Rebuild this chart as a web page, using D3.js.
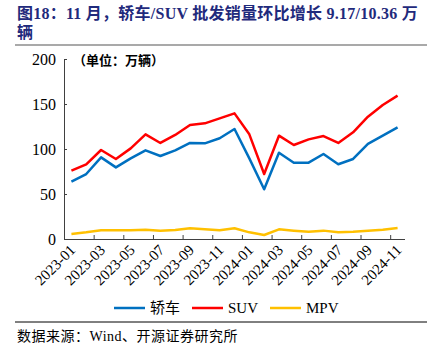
<!DOCTYPE html>
<html>
<head>
<meta charset="utf-8">
<script src="https://cdn.jsdelivr.net/npm/d3@7"></script>
<style>
  body { margin: 0; background: #fff; }
  svg { display: block; }
</style>
</head>
<body>
<div id="chart"></div>
<script>
// monthly wholesale volume, 万辆
const months = ["2023-01","2023-02","2023-03","2023-04","2023-05","2023-06","2023-07","2023-08","2023-09","2023-10","2023-11","2023-12",
  "2024-01","2024-02","2024-03","2024-04","2024-05","2024-06","2024-07","2024-08","2024-09","2024-10","2024-11"];
const sedan = [63.7, 72.2, 90.7, 79.6, 89.6, 98.5, 92.2, 98.5, 106.7, 106.3, 111.9, 122.2,
  89.6, 55.2, 95.9, 84.8, 84.8, 94.4, 83.0, 88.9, 105.6, 114.8, 124.0];
const suv = [75.9, 83.0, 98.9, 88.9, 100.7, 116.3, 106.7, 115.6, 126.7, 128.5, 134.0, 139.6,
  116.3, 72.2, 114.8, 104.4, 110.7, 114.4, 106.7, 118.5, 135.9, 148.9, 159.3];
const mpv = [5.6, 7.4, 9.6, 9.6, 9.6, 10.4, 9.3, 10.0, 11.9, 10.7, 9.6, 11.9,
  7.4, 4.4, 10.7, 9.3, 8.1, 9.3, 7.4, 8.1, 9.3, 10.4, 12.2];
const yTicks = [0, 50, 100, 150, 200];

const series = [
  { name: "轿车", values: sedan, color: "#0070C0" },
  { name: "SUV", values: suv, color: "#FF0000" },
  { name: "MPV", values: mpv, color: "#FFC000" }
];

const width = 445, height = 351;
const plotLeft = 64, plotRight = 405, plotTop = 59, plotBottom = 239;
const serif = "'Liberation Serif', 'Noto Sans CJK SC', serif";

const svg = d3.select("#chart").append("svg")
  .attr("width", width)
  .attr("height", height);

// title
const title = svg.append("text")
  .attr("fill", "#1F2A7C")
  .attr("font-family", serif)
  .attr("font-weight", "bold")
  .attr("font-size", 16)
  .attr("letter-spacing", 0.25);
title.append("tspan").attr("x", 17).attr("y", 19).text("图18：11 月，轿车/SUV 批发销量环比增长 9.17/10.36 万");
title.append("tspan").attr("x", 17).attr("y", 38).text("辆");

svg.append("line")
  .attr("x1", 15).attr("x2", 427)
  .attr("y1", 45).attr("y2", 45)
  .attr("stroke", "#8c8c8c").attr("stroke-width", 1.5);

const x = d3.scaleLinear().domain([-0.5, months.length - 0.5]).range([plotLeft, plotRight]);
const y = d3.scaleLinear().domain([0, 200]).range([plotBottom, plotTop]);

// y axis
const yAxis = svg.append("g")
  .attr("transform", `translate(${plotLeft},0)`)
  .call(d3.axisLeft(y).tickValues(yTicks).tickSize(-3).tickPadding(8));
yAxis.select(".domain").attr("stroke", "#404040");
yAxis.selectAll(".tick line").attr("stroke", "#404040");
yAxis.selectAll("text")
  .attr("font-family", serif)
  .attr("font-size", 16)
  .attr("fill", "#000");

// x axis: ticks at band boundaries, labels every two months
const boundaries = d3.range(1.5, months.length - 1, 2);
const xAxis = svg.append("g")
  .attr("transform", `translate(0,${plotBottom})`)
  .call(d3.axisBottom(x).tickValues(boundaries).tickSize(-4).tickFormat("").tickSizeOuter(0));
xAxis.select(".domain").attr("stroke", "#404040").attr("d", `M${plotLeft},0.5H${plotRight}`);
xAxis.selectAll(".tick line").attr("stroke", "#404040");

svg.append("g")
  .selectAll("text")
  .data(months.filter((m, i) => i % 2 === 0))
  .join("text")
  .attr("transform", d => `translate(${x(months.indexOf(d)) + 5},${plotBottom + 12}) rotate(-45)`)
  .attr("text-anchor", "end")
  .attr("font-family", serif)
  .attr("font-size", 15)
  .text(d => d);

svg.append("text")
  .attr("x", 73).attr("y", 65)
  .attr("font-family", serif)
  .attr("font-weight", "bold")
  .attr("font-size", 13)
  .text("（单位：万辆）");

// lines
const line = d3.line().x((d, i) => x(i)).y(d => y(d));
svg.append("g")
  .selectAll("path")
  .data([series[2], series[0], series[1]])
  .join("path")
  .attr("fill", "none")
  .attr("stroke", d => d.color)
  .attr("stroke-width", 2.5)
  .attr("stroke-linejoin", "round")
  .attr("d", d => line(d.values));

// legend
const legendX = [114, 192, 270];
const legend = svg.append("g")
  .selectAll("g")
  .data(series)
  .join("g")
  .attr("transform", (d, i) => `translate(${legendX[i]},308)`);
legend.append("line")
  .attr("x1", 0).attr("x2", 31)
  .attr("stroke", d => d.color)
  .attr("stroke-width", 2.5);
legend.append("text")
  .attr("x", 36).attr("y", 5)
  .attr("font-family", serif)
  .attr("font-size", 15)
  .text(d => d.name);

svg.append("line")
  .attr("x1", 15).attr("x2", 427)
  .attr("y1", 322).attr("y2", 322)
  .attr("stroke", "#000").attr("stroke-width", 1);

svg.append("text")
  .attr("x", 17).attr("y", 341)
  .attr("font-family", serif)
  .attr("font-size", 14)
  .attr("letter-spacing", 0.5)
  .text("数据来源：Wind、开源证券研究所");
</script>
</body>
</html>
